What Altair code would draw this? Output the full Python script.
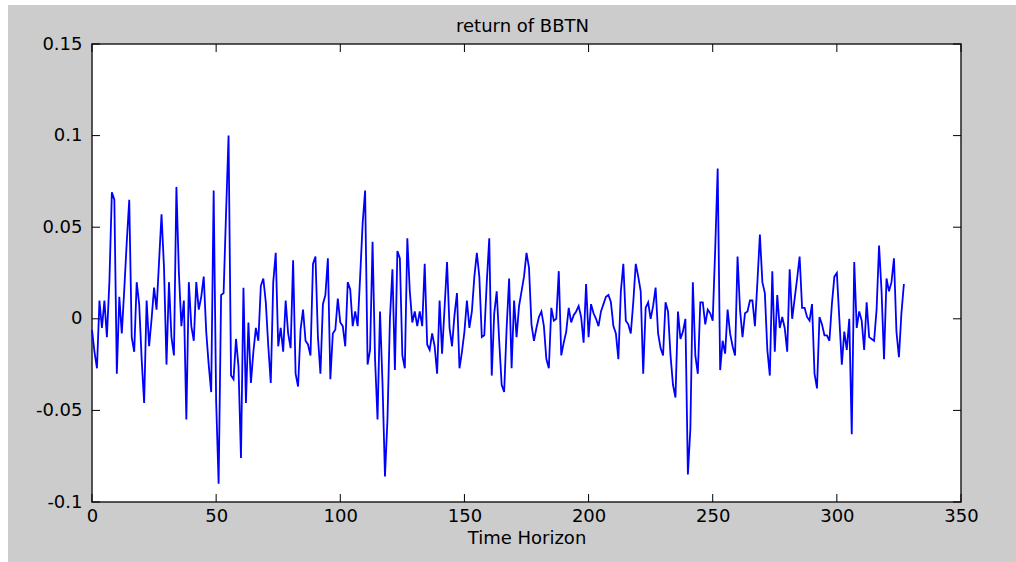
import altair as alt
import pandas as pd

# ---- data ----
returns = [
    -0.006, -0.018, -0.027, 0.010, -0.005, 0.010, -0.010, 0.020, 0.069, 0.065,
    -0.030, 0.012, -0.008, 0.016, 0.042, 0.065, -0.010, -0.018, 0.020, 0.008,
    -0.022, -0.046, 0.010, -0.015, 0.000, 0.017, 0.005, 0.031, 0.057, 0.028,
    -0.025, 0.020, -0.010, -0.020, 0.072, 0.025, -0.004, 0.010, -0.055, 0.020,
    -0.004, -0.012, 0.020, 0.005, 0.012, 0.023, -0.007, -0.025, -0.040, 0.070,
    -0.045, -0.090, 0.013, 0.014, 0.058, 0.100, -0.031, -0.033, -0.011, -0.026,
    -0.076, 0.017, -0.046, -0.002, -0.035, -0.018, -0.005, -0.012, 0.018, 0.022,
    0.009, -0.015, -0.035, 0.020, 0.036, -0.015, -0.005, -0.018, 0.010, -0.008,
    -0.016, 0.032, -0.030, -0.037, -0.006, 0.005, -0.012, -0.014, -0.020, 0.030,
    0.034, -0.010, -0.030, 0.008, 0.013, 0.033, -0.033, -0.008, -0.006, 0.011,
    -0.002, -0.004, -0.015, 0.020, 0.016, -0.004, 0.004, -0.004, 0.023, 0.052,
    0.070, -0.025, -0.017, 0.042, -0.022, -0.055, 0.004, -0.035, -0.086, -0.055,
    0.000, 0.027, -0.028, 0.037, 0.033, -0.020, -0.027, 0.044, 0.015, -0.002,
    0.004, -0.004, 0.004, -0.004, 0.030, -0.014, -0.017, -0.008, -0.015, -0.030,
    0.010, -0.019, 0.006, 0.031, -0.005, -0.015, 0.002, 0.014, -0.027, -0.018,
    -0.007, 0.010, -0.005, 0.004, 0.023, 0.036, 0.023, -0.010, -0.009, 0.020,
    0.044, -0.031, 0.003, 0.015, -0.012, -0.036, -0.040, -0.005, 0.022, -0.027,
    0.010, -0.010, 0.007, 0.015, 0.023, 0.036, 0.028, -0.003, -0.012, -0.005,
    0.001, 0.004, -0.004, -0.022, -0.027, 0.006, -0.001, 0.000, 0.026, -0.020,
    -0.013, -0.007, 0.006, -0.002, 0.002, 0.004, 0.007, 0.001, -0.013, 0.019,
    -0.010, 0.008, 0.003, 0.000, -0.004, 0.004, 0.008, 0.012, 0.013, 0.009,
    -0.004, -0.008, -0.022, 0.015, 0.030, -0.001, -0.003, -0.008, 0.009, 0.030,
    0.023, 0.015, -0.030, 0.006, 0.009, 0.000, 0.007, 0.017, -0.008, -0.016,
    -0.020, 0.009, 0.004, -0.020, -0.036, -0.043, 0.004, -0.011, -0.007, 0.000,
    -0.085, -0.060, 0.020, -0.020, -0.030, 0.009, 0.009, -0.003, 0.005, 0.003,
    -0.001, 0.038, 0.082, -0.028, -0.012, -0.019, 0.005, -0.008, -0.015, -0.020,
    0.034, 0.005, -0.010, 0.003, 0.004, 0.010, 0.010, -0.004, 0.020, 0.046,
    0.020, 0.014, -0.017, -0.031, 0.026, -0.018, 0.013, -0.005, 0.001, -0.005,
    -0.018, 0.027, 0.000, 0.011, 0.022, 0.034, 0.006, 0.006, 0.001, -0.001,
    0.008, -0.030, -0.038, 0.001, -0.003, -0.009, -0.009, -0.012, 0.008, 0.023,
    0.025, 0.000, -0.025, -0.007, -0.017, 0.000, -0.063, 0.031, -0.005, 0.004,
    -0.001, -0.017, 0.009, -0.010, -0.011, -0.012, 0.005, 0.040, 0.015, -0.022,
    0.022, 0.015, 0.020, 0.033, -0.007, -0.021, 0.003, 0.019,
]
x_ticks = [0, 50, 100, 150, 200, 250, 300, 350]
y_ticks = [-0.1, -0.05, 0, 0.05, 0.1, 0.15]
title_text = "return of BBTN"

df = pd.DataFrame({"t": list(range(len(returns))), "v": returns})
df_xt = pd.DataFrame({"t": x_ticks})
df_yt = pd.DataFrame({"v": y_ticks})
one = pd.DataFrame({"k": [0]})

W, H = 869, 458
PL, PT = 92, 44
FONT = "DejaVu Sans"

xscale = alt.Scale(domain=[0, 350], nice=False, zero=False)
yscale = alt.Scale(domain=[-0.1, 0.15], nice=False, zero=False)
xaxis = alt.Axis(values=x_ticks, title="Time Horizon", labelPadding=5,
                 titlePadding=4, labelFlush=False, labelOverlap=False)
yaxis = alt.Axis(values=y_ticks, title=None, labelPadding=10,
                 labelExpr="toString(datum.value)", labelOverlap=False)

X = lambda: alt.X("t:Q", scale=xscale, axis=xaxis)
Y = lambda: alt.Y("v:Q", scale=yscale, axis=yaxis)

line = alt.Chart(df).mark_line(color="#0000ff", strokeWidth=1.8).encode(x=X(), y=Y())

tick_style = dict(color="#000000", strokeWidth=1)
xt_bottom = alt.Chart(df_xt).mark_rule(**tick_style).encode(
    x=X(), y=alt.value(H), y2=alt.value(H - 8))
xt_top = alt.Chart(df_xt).mark_rule(**tick_style).encode(
    x=X(), y=alt.value(0), y2=alt.value(8))
yt_left = alt.Chart(df_yt).mark_rule(**tick_style).encode(
    y=Y(), x=alt.value(0), x2=alt.value(8))
yt_right = alt.Chart(df_yt).mark_rule(**tick_style).encode(
    y=Y(), x=alt.value(W - 8), x2=alt.value(W))

# thin white border of the figure window (top and left edges)
border_top = alt.Chart(one).mark_rect(color="white").encode(
    x=alt.value(-PL), x2=alt.value(1016 - PL), y=alt.value(-PT), y2=alt.value(-PT + 5))
border_left = alt.Chart(one).mark_rect(color="white").encode(
    x=alt.value(-PL), x2=alt.value(-PL + 8), y=alt.value(-PT), y2=alt.value(562 - PT))

title = alt.Chart(one).mark_text(
    font=FONT, fontSize=18, color="#000000", align="center", baseline="alphabetic"
).encode(x=alt.value(W / 2 - 4), y=alt.value(-12), text=alt.value(title_text))

chart = alt.layer(
    border_top, border_left, line, xt_bottom, xt_top, yt_left, yt_right, title
).properties(
    width=W, height=H,
    autosize=alt.AutoSizeParams(type="none"),
    padding={"left": PL, "top": PT, "right": 1016 - PL - W, "bottom": 562 - PT - H},
    background="#cccccc",
).configure_view(
    fill="white", stroke="#222222", strokeWidth=1.5
).configure_axis(
    domain=False, ticks=False, grid=False,
    labelFont=FONT, labelFontSize=18, labelColor="#000000",
    titleFont=FONT, titleFontSize=18, titleFontWeight="normal", titleColor="#000000",
)

chart.save("out.html", embed_options={"renderer": "svg", "actions": False})
